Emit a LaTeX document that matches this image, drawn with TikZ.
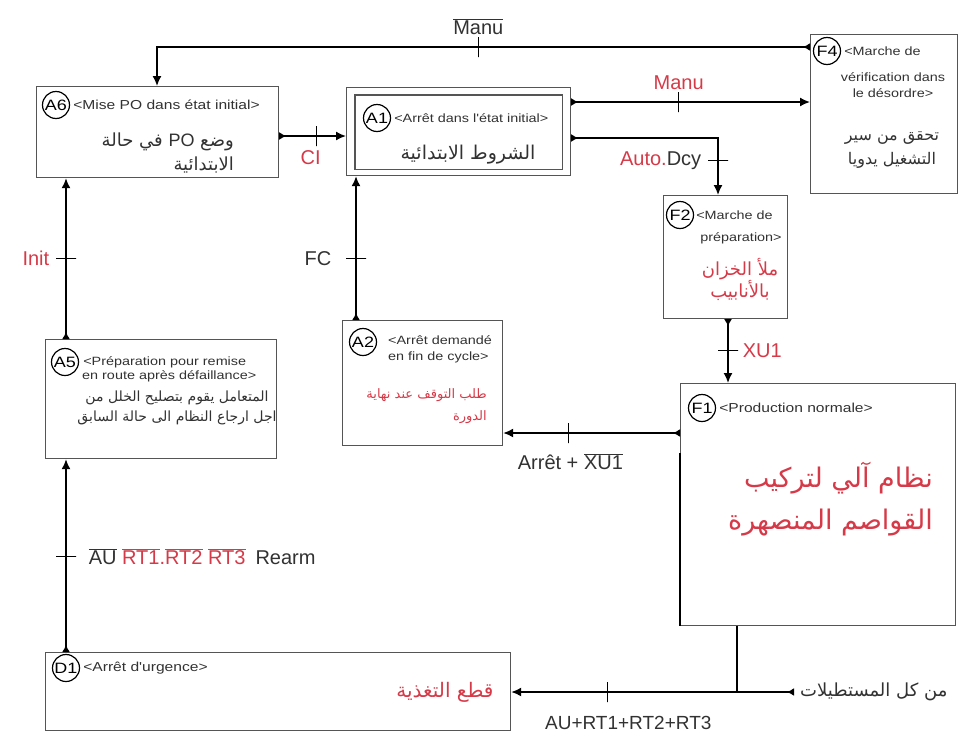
\documentclass[tikz,border=0pt]{standalone}
\usepackage{fontspec}
\setmainfont{Liberation Sans}
\newfontfamily\titlefont[FakeStretch=1.2]{Liberation Sans}
\newfontfamily\arabicfont[Script=Arabic]{DejaVu Sans}
\TeXXeTstate=1
\usetikzlibrary{arrows.meta, positioning}

\definecolor{gemmared}{RGB}{214,58,72}
\definecolor{boxgray}{RGB}{85,85,85}
\definecolor{textgray}{RGB}{50,50,50}

\newcommand{\barre}[1]{$\overline{\mbox{#1}}$}
\newcommand{\arsize}[2]{\arabicfont\fontsize{#1}{#2}\selectfont}

\begin{document}
\begin{tikzpicture}[
	  x=1pt, y=-1pt,
	  etat/.style={rectangle, draw=boxgray, line width=1.2pt, anchor=north west, inner sep=0pt},
	  num/.style={circle, draw=black, line width=1.2pt, minimum size=27pt, inner sep=0pt, font=\titlefont\fontsize{15}{15}\selectfont},
	  titre/.style={inner sep=0pt, text=textgray, font=\titlefont\fontsize{13}{16}\selectfont},
	  petit/.style={titre, font=\titlefont\fontsize{12}{16}\selectfont},
	  arabe/.style={inner sep=0pt, align=center, text=textgray, font=\arsize{14}{20}},
	  cond/.style={inner sep=0pt, text=textgray, font=\fontsize{20}{20}\selectfont},
	  trait/.style={draw=black, line width=1.2pt, minimum width=0pt, minimum height=20pt, inner sep=0pt, sloped},
	  lien/.style={line width=1.6pt, {Latex[reversed,length=7pt,width=8pt]}-{Latex[length=10pt,width=9pt]}},
	  ligne/.style={line width=1.6pt}
	]

	\fill[white] (0,0) rectangle (962,742);
	\useasboundingbox (0,0) rectangle (962,742);

	% rectangles
	\node (a6) [etat, minimum width=242pt, minimum height=91pt] at (36,86) {};
	\node (a1) [etat, minimum width=224pt, minimum height=88pt] at (346,87) {};
	\draw [boxgray, line width=1.2pt] ([shift={(9pt,-8pt)}]a1.north west) rectangle ([shift={(-9pt,7pt)}]a1.south east);
	\node (f4) [etat, minimum width=147pt, minimum height=159pt] at (810,34) {};
	\node (f2) [etat, minimum width=124pt, minimum height=123pt] at (663,195) {};
	\node (a2) [etat, minimum width=160pt, minimum height=125pt] at (342,320) {};
	\node (a5) [etat, minimum width=231pt, minimum height=119pt] at (45,339) {};
	\node (f1) [etat, minimum width=275pt, minimum height=242pt] at (680,383) {};
	\node (d1) [etat, minimum width=465pt, minimum height=78pt] at (45,652) {};
	\draw [ligne] ([yshift=-70pt]f1.north west) -- (f1.south west);

	% numeros et titres
	\node (na6) [num] at (56,105) {A6};
	\node (ta6) [titre, right=3pt of na6] {<Mise PO dans état initial>};
	\node (na1) [num] at (377,118) {A1};
	\node (ta1) [petit, right=3pt of na1] {<Arrêt dans l'état initial>};
	\node (nf4) [num] at (827,51) {F4};
	\node (tf4) [petit, right=3pt of nf4] {<Marche de};
	\node (tf4b) [petit, align=center] at (893,85) {vérification dans\\le désordre>};
	\node (nf2) [num] at (680,215) {F2};
	\node (tf2) [petit, right=2pt of nf2] {<Marche de};
	\node (tf2b) [petit] at (741,238) {préparation>};
	\node (na2) [num] at (363,342) {A2};
	\node (ta2) [petit, align=left, anchor=north west] at (388,335) {<Arrêt demandé\\en fin de cycle>};
	\node (na5) [num] at (65,362) {A5};
	\node (ta5) [petit, right=4pt of na5] {<Préparation pour remise};
	\node (ta5b) [petit, anchor=west] at (82,376) {en route après défaillance>};
	\node (nf1) [num] at (702,408) {F1};
	\node (tf1) [titre, right=3pt of nf1] {<Production normale>};
	\node (nd1) [num] at (66,668) {D1};
	\node (td1) [titre, right=3pt of nd1] {<Arrêt d'urgence>};

	% textes
	\node (ca6) [arabe, align=right, anchor=east, font=\arsize{18}{24}] at (234,153) {\beginR وضع \beginL{\normalfont\fontsize{18}{18}\selectfont PO}\endL{} في حالة\endR\\\beginR الابتدائية\endR};
	\node (ca1) [arabe, font=\arsize{19}{24}] at (468,155) {\beginR الشروط الابتدائية\endR};
	\node (cf4) [arabe, font=\arsize{16}{24}] at (892,150) {\beginR تحقق من سير\endR\\\beginR التشغيل يدويا\endR};
	\node (cf2) [arabe, text=gemmared, font=\arsize{18}{22}] at (740,279) {\beginR ملأ الخزان\endR\\\beginR بالأنابيب\endR};
	\node (ca2) [arabe, text=gemmared, align=right, anchor=east, font=\arsize{13}{22}] at (487,406) {\beginR طلب التوقف عند نهاية\endR\\\beginR الدورة\endR};
	\node (ca5) [arabe] at (177,408) {\beginR المتعامل يقوم بتصليح الخلل من\endR\\\beginR اجل ارجاع النظام الى حالة السابق\endR};
	\node (cf1) [arabe, text=gemmared, align=right, anchor=east, font=\arsize{27}{42}] at (933,499) {\beginR نظام آلي لتركيب\endR\\\beginR القواصم المنصهرة\endR};
	\node (cd1) [arabe, text=gemmared, font=\arsize{20}{20}] at (445,692) {\beginR قطع التغذية\endR};
	\node (src) [arabe, anchor=west, inner xsep=6pt, font=\arsize{18}{18}] at (794,692) {\beginR من كل المستطيلات\endR};
	\coordinate (jonction) at (737,692);

	% liaisons
	\draw [lien] (f4.west |- 0,47) -| node[trait, pos=0.254]{} node[cond, pos=0.254, above=12pt]{\barre{Manu}} (a6.north -| 157,0);
	\draw [lien] (a6.east |- 0,136) -- node[trait, pos=0.56]{} node[cond, text=gemmared, pos=0.47, below=14pt]{CI} (a1.west |- 0,136);
	\draw [lien] (a1.east |- 0,102) -- node[trait, pos=0.45]{} node[cond, text=gemmared, pos=0.45, above=12pt]{Manu} (f4.west |- 0,102);
	\draw [lien] (a1.east |- 0,138) -| node[trait, pos=0.7]{} node[cond, pos=0.7, left=16pt]{\textcolor{gemmared}{Auto.}Dcy} (f2.north -| 718,0);
	\draw [lien] (f2.south -| 728,0) -- node[trait, pos=0.49]{} node[cond, text=gemmared, pos=0.49, right=14pt]{XU1} (f1.north -| 728,0);
	\draw [lien] (f1.west |- 0,433) -- node[trait, pos=0.63]{} node[cond, pos=0.62, below=20pt]{Arrêt + \barre{XU1}} (a2.east |- 0,433);
	\draw [lien] (a2.north -| 356,0) -- node[trait, pos=0.43]{} node[cond, pos=0.43, left=24pt]{FC} (a1.south -| 356,0);
	\draw [lien] (a5.north -| 66,0) -- node[trait, pos=0.5]{} node[cond, text=gemmared, pos=0.5, left=16pt]{Init} (a6.south -| 66,0);
	\draw [lien] (d1.north -| 66,0) -- node[trait, pos=0.495]{} node[cond, pos=0.495, right=22pt]{\barre{AU} \textcolor{gemmared}{\barre{RT1}.\barre{RT2} \barre{RT3}}\enspace Rearm} (a5.south -| 66,0);
	\draw [lien] (src.west) -- node[trait, pos=0.66]{} node[cond, pos=0.586, below=23pt, font=\fontsize{19}{19}\selectfont]{AU+RT1+RT2+RT3} (d1.east |- src.west);
	\draw [ligne] (f1.south -| jonction) -- (jonction);

\end{tikzpicture}
\end{document}
